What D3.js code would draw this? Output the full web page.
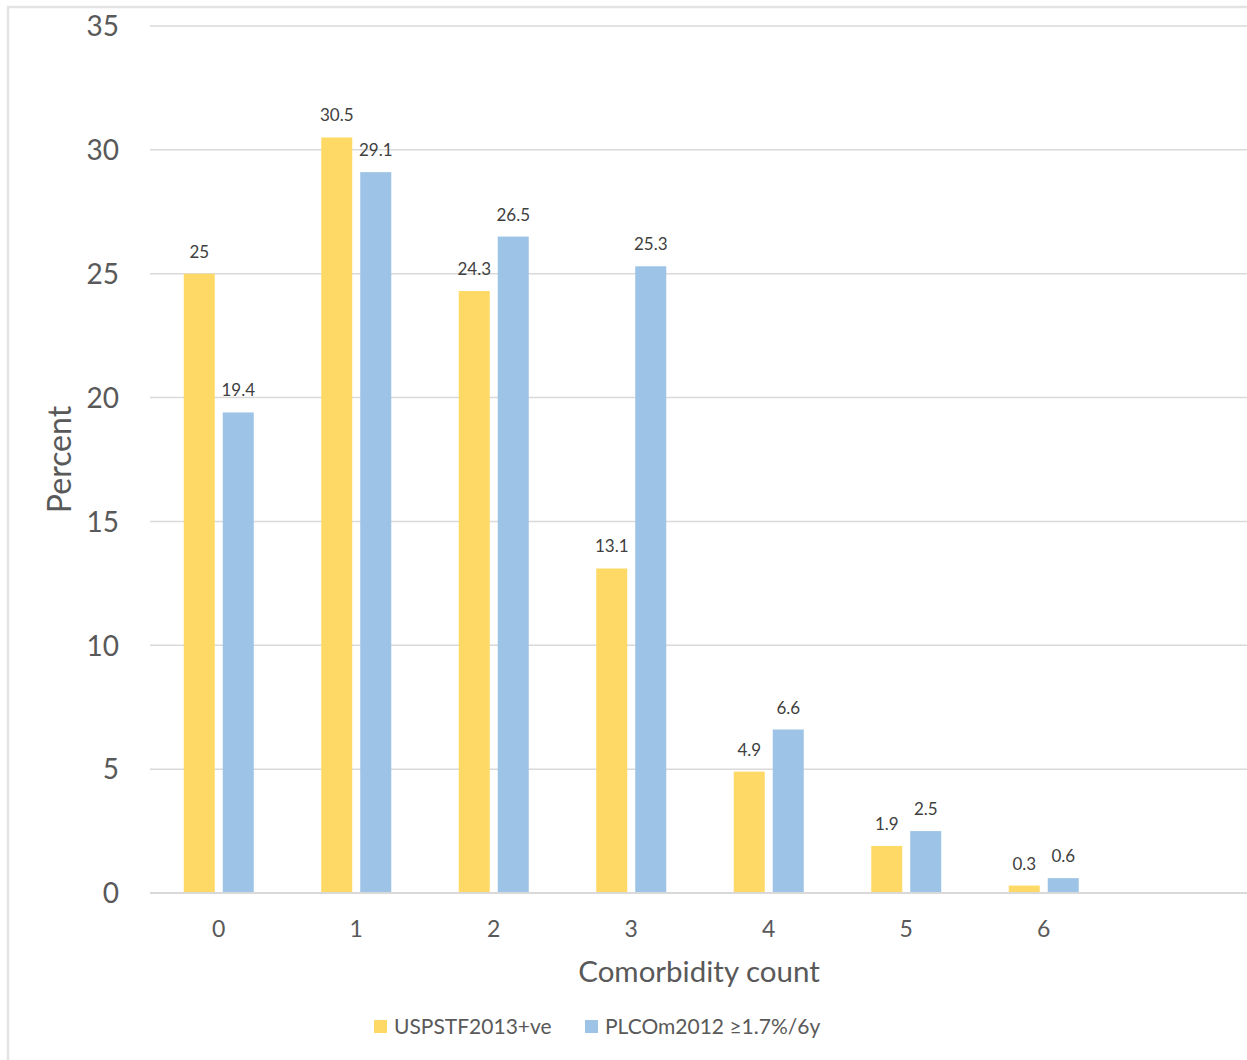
<!DOCTYPE html>
<html>
<head>
<meta charset="utf-8">
<script src="https://cdn.jsdelivr.net/npm/d3@7"></script>
<style>
  html, body { margin: 0; padding: 0; background: #fff; }
  svg { display: block; font-family: Lato, "Open Sans", sans-serif; }
</style>
</head>
<body>
<svg id="chart" width="1247" height="1060"></svg>
<script>
// Comorbidity count distribution for two screening eligibility criteria
const categories = ["0", "1", "2", "3", "4", "5", "6"];
const seriesNames = ["USPSTF2013+ve", "PLCOm2012 \u22651.7%/6y"];
const uspstf = [25, 30.5, 24.3, 13.1, 4.9, 1.9, 0.3];
const plcom = [19.4, 29.1, 26.5, 25.3, 6.6, 2.5, 0.6];
const yTicks = [0, 5, 10, 15, 20, 25, 30, 35];
const colors = ["#FFD966", "#9DC3E6"];

const svg = d3.select("#chart");

// outer frame
svg.append("rect")
  .attr("x", 8).attr("y", 7)
  .attr("width", 1260).attr("height", 1070)
  .attr("fill", "none")
  .attr("stroke", "#e3e3e3")
  .attr("stroke-width", 2.5);

const plot = { left: 150, right: 1250, top: 26, bottom: 893 };

// one extra empty slot after the last category
const slots = categories.concat([""]);
const x0 = d3.scaleBand().domain(slots).range([plot.left, plot.right]).padding(0);
const x1 = d3.scaleBand().domain(seriesNames).range([-35, 35]).paddingInner(0.205).paddingOuter(0);
const y = d3.scaleLinear().domain([0, 35]).range([plot.bottom, plot.top]);

// gridlines
svg.append("g")
  .selectAll("line")
  .data(yTicks)
  .join("line")
  .attr("x1", plot.left).attr("x2", 1247)
  .attr("y1", d => y(d)).attr("y2", d => y(d))
  .attr("stroke", "#d9d9d9")
  .attr("stroke-width", 1.5);

// y axis labels
const yAxis = d3.axisLeft(y).tickValues(yTicks).tickSize(0).tickPadding(0);
svg.append("g")
  .attr("transform", `translate(119,0)`)
  .call(yAxis)
  .call(g => g.select(".domain").remove())
  .call(g => g.selectAll("text")
    .attr("font-size", 28)
    .attr("font-family", "Lato, sans-serif")
    .attr("fill", "#595959")
    .attr("dy", "0.35em"));

// x axis labels
const xAxis = d3.axisBottom(x0).tickSize(0).tickPadding(0);
svg.append("g")
  .attr("transform", `translate(0,${plot.bottom})`)
  .call(xAxis)
  .call(g => g.select(".domain").remove())
  .call(g => g.selectAll("text")
    .attr("font-size", 23)
    .attr("font-family", "Lato, sans-serif")
    .attr("fill", "#595959")
    .attr("y", 36)
    .attr("dy", "0.35em"));

// bars
const rows = categories.map((c, i) => ({ cat: c, values: [uspstf[i], plcom[i]] }));
const groups = svg.append("g")
  .selectAll("g")
  .data(rows)
  .join("g")
  .attr("transform", d => `translate(${x0(d.cat) + x0.bandwidth() / 2},0)`);

groups.selectAll("rect")
  .data(d => d.values.map((v, j) => ({ name: seriesNames[j], v, j })))
  .join("rect")
  .attr("x", d => x1(d.name))
  .attr("width", x1.bandwidth())
  .attr("y", d => y(d.v))
  .attr("height", d => y(0) - y(d.v))
  .attr("fill", d => colors[d.j]);

// value labels
groups.selectAll("text")
  .data(d => d.values.map((v, j) => ({ name: seriesNames[j], v, j })))
  .join("text")
  .attr("x", d => x1(d.name) + x1.bandwidth() / 2)
  .attr("y", d => y(d.v) - 16)
  .attr("text-anchor", "middle")
  .attr("font-size", 17)
  .attr("fill", "#404040")
  .text(d => d.v);

// baseline
svg.append("line")
  .attr("x1", plot.left).attr("x2", 1247)
  .attr("y1", y(0)).attr("y2", y(0))
  .attr("stroke", "#d9d9d9")
  .attr("stroke-width", 2);

// axis titles
svg.append("text")
  .attr("transform", `translate(71,${(plot.top + plot.bottom) / 2}) rotate(-90)`)
  .attr("text-anchor", "middle")
  .attr("font-size", 32)
  .attr("fill", "#595959")
  .text("Percent");

svg.append("text")
  .attr("x", 699).attr("y", 982)
  .attr("text-anchor", "middle")
  .attr("font-size", 29.5)
  .attr("fill", "#595959")
  .text("Comorbidity count");

// legend
const legendX = [374, 585];
const legend = svg.append("g")
  .selectAll("g")
  .data(seriesNames)
  .join("g")
  .attr("transform", (d, i) => `translate(${legendX[i]},1020)`);
legend.append("rect")
  .attr("width", 13).attr("height", 13)
  .attr("fill", (d, i) => colors[i]);
legend.append("text")
  .attr("x", 20).attr("y", 14)
  .attr("font-size", 21)
  .attr("fill", "#595959")
  .text(d => d);
</script>
</body>
</html>
